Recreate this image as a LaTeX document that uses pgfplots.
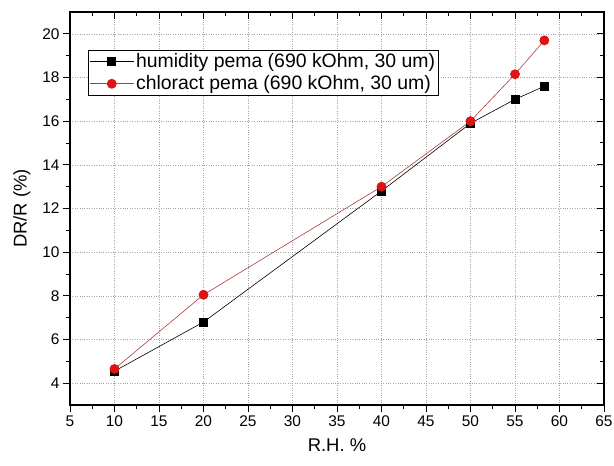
\documentclass[border=0pt]{standalone}
\usepackage{fontspec}
\setmainfont{Liberation Sans}
\usepackage{pgfplots}
\pgfplotsset{compat=1.18}
\definecolor{dotred}{RGB}{220,20,20}
\definecolor{linered}{RGB}{170,60,60}
\pgfplotsset{
  frame/.style={
    scale only axis,
    width=534bp, height=393bp,
    xmin=5, xmax=65, ymin=3, ymax=21,
    xtick={5,10,...,65}, ytick={4,6,...,20},
    minor x tick num=1, minor y tick num=1,
    major tick length=7bp, minor tick length=4bp,
    axis line style={line width=1.1pt},
    every tick/.style={black, line width=1pt},
  },
}
\begin{document}
\begin{tikzpicture}
\useasboundingbox (-70bp,-61bp) rectangle (544bp,405bp);
\begin{axis}[frame,
  tick align=outside,
  xtick pos=left, ytick pos=left,
  grid=major,
  major grid style={dotted, gray!70, line width=0.5pt},
  tick label style={font=\fontsize{15.5}{18}\selectfont},
  /pgf/number format/assume math mode=true,
  xlabel={R.H. \%}, ylabel={DR/R (\%)},
  every axis x label/.style={at={(axis description cs:0.5,-0.102)}, anchor=center,
    font=\fontsize{18.5}{22}\selectfont},
  every axis y label/.style={at={(axis description cs:-0.09,0.5)}, anchor=center, rotate=90,
    font=\fontsize{18.5}{22}\selectfont},
  legend style={at={(axis description cs:0.034,0.903)}, anchor=north west,
    draw=black, line width=0.6pt, inner sep=1bp,
    font=\fontsize{19.5}{21}\selectfont, row sep=1.5bp,
    nodes={inner sep=2bp, text depth=0.25em}},
  legend cell align=left,
  legend image code/.code={\draw[mark repeat=2,mark phase=2] plot coordinates {(0bp,0bp) (22bp,0bp) (44bp,0bp)};},
]
\addplot[black, line width=0.6pt, mark=square*, mark size=4bp, mark options={solid, fill=black}]
  coordinates {(10,4.55) (20,6.8) (40,12.8) (50,15.9) (55,17.0) (58.3,17.6)};
\addlegendentry{humidity pema (690 kOhm, 30 um)}
\addplot[linered, line width=0.6pt, mark=*, mark size=4.6bp, mark options={solid, draw=dotred, fill=dotred}]
  coordinates {(10,4.65) (20,8.05) (40,13.0) (50,16.0) (55,18.15) (58.3,19.7)};
\addlegendentry{chloract pema (690 kOhm, 30 um)}
\end{axis}
\begin{axis}[frame,
  tick align=inside,
  xtick pos=right, ytick pos=right,
  xticklabels={}, yticklabels={},
]
\end{axis}
\end{tikzpicture}
\end{document}
